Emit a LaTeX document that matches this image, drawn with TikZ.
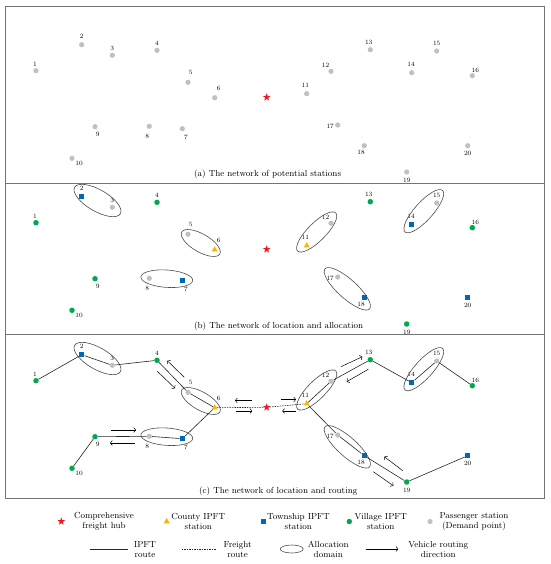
\documentclass[tikz,border=0pt]{standalone}
\usepackage{tikz}
\usetikzlibrary{arrows.meta,shapes.geometric,positioning,calc}

\definecolor{hubred}{RGB}{236,28,36}
\definecolor{ctyyellow}{RGB}{247,182,0}
\definecolor{townblue}{RGB}{0,104,180}
\definecolor{villgreen}{RGB}{0,168,80}
\definecolor{passgray}{RGB}{192,192,192}

\begin{document}
\begin{tikzpicture}[x=1pt, y=-1pt,
    pass/.style={circle, fill=passgray, inner sep=0pt, minimum size=5.2pt},
    village/.style={circle, fill=villgreen, inner sep=0pt, minimum size=5.5pt},
    township/.style={rectangle, fill=townblue, inner sep=0pt, minimum size=5.5pt},
    county/.style={regular polygon, regular polygon sides=3, fill=ctyyellow, inner sep=0pt, minimum size=7pt},
    hub/.style={star, star points=5, star point ratio=2.4, fill=hubred, inner sep=0pt, minimum size=8pt},
    kind/.style={#1},
    num/.style={font=\fontsize{6.5}{7}\selectfont, inner sep=0pt},
    dom/.style={ellipse, draw=black!70, line width=0.6pt, inner sep=0pt},
    route/.style={draw=black!85, line width=0.6pt},
    freight/.style={route, dash pattern=on 1.5pt off 1pt},
    dir/.style={-{To[length=2.5pt]}, line width=0.5pt},
    panel/.style={draw=black!55, line width=0.8pt},
    captxt/.style={font=\fontsize{8.8}{10}\selectfont, anchor=west, inner sep=0pt},
    leg/.style={font=\fontsize{8.8}{10}\selectfont, align=center, inner sep=0pt}
]
\useasboundingbox (0,0) rectangle (550,564);

% three panels
\draw[panel] (5,6.7) rectangle (544,183);
\draw[panel] (5,183) rectangle (544,334);
\draw[panel] (5,334) rectangle (544,498);

% stations: panel (a), (b) = +152, (c) = +310
\foreach \n/\x/\y/\t/\dx/\dy in {
    1/36/70.7/village/-1/-6, 2/81.7/44.7/township/0/-8, 3/112.3/55.3/pass/0/-6.5,
    4/157/50.3/village/0/-6.5, 5/188/82.3/pass/2.7/-10, 6/214.7/97.7/county/4/-9,
    7/182.3/128.7/township/3.7/8.5, 8/149.3/126.3/pass/-2/10, 9/95/126.7/village/2.7/8,
    10/72/158.3/village/7/5, 11/306.7/93.7/county/-1.4/-8, 12/331/71.3/pass/-5.5/-5.5,
    13/370.3/49.7/village/-1.6/-7, 14/411.7/72.7/township/-0.7/-8.5, 15/436.7/51/pass/0/-8,
    16/472.3/75.7/village/3/-5.5, 17/337.7/125/pass/-7.5/1.3, 18/364.3/145.7/township/-3.3/7,
    19/406.7/172/village/0/8, 20/467.7/145.7/township/0/7.5} {
  \node[pass] (a\n) at (\x,\y) {};
  \node[num] (a\n-l) at ({\x+\dx},{\y+\dy}) {\n};
  \node[kind/.expand once=\t] (b\n) at (\x,{\y+152}) {};
  \node[num] (b\n-l) at ({\x+\dx},{\y+\dy+152}) {\n};
  \node[kind/.expand once=\t] (c\n) at (\x,{\y+310}) {};
  \node[num] (c\n-l) at ({\x+\dx},{\y+\dy+310}) {\n};
}
\node[hub] (ha) at (266.7,97.3) {};
\node[hub] (hb) at (266.7,249.3) {};
\node[hub] (hc) at (266.7,407.3) {};

% allocation domains in (b) and (c)
\foreach \e/\cx/\cy/\r/\w/\h in {
    23/97.5/200.5/-30/52.8/21.6, 56/200.8/243/-30/44/18, 78/166.8/278.7/-4/52/17.4,
    1112/316.7/232/45/54/18, 1415/423.8/211.2/48/56/18, 1718/347.3/288.8/-42/60/19} {
  \node[dom, minimum width=\w pt, minimum height=\h pt, rotate=\r] (bd\e) at (\cx,\cy) {};
  \node[dom, minimum width=\w pt, minimum height=\h pt, rotate=\r] (cd\e) at (\cx,{\cy+158}) {};
}

% routes in (c)
\draw[route] (c1) -- (c2) -- (c3) -- (c4) -- (c5) -- (c6) -- (c7) -- (c8) -- (c9) -- (c10);
\draw[route] (c11) -- (c12) -- (c13) -- (c14) -- (c15) -- (c16);
\draw[route] (c11) -- (c17) -- (c18) -- (c19) -- (c20);
\draw[freight] (c6) -- (hc) -- (c11);

% routing directions
\draw[dir] (184.3,377.3) -- (167.3,360.7);
\draw[dir] (157.3,371.3) -- (175,388.3);
\draw[dir] (251.7,400.5) -- (235,400.5);
\draw[dir] (236,411) -- (252.3,411);
\draw[dir] (281,399.5) -- (296,399.5);
\draw[dir] (296,411) -- (282.3,411);
\draw[dir] (111,430) -- (136,430);
\draw[dir] (135,443) -- (110,443);
\draw[dir] (341,366.7) -- (362.3,356.7);
\draw[dir] (368.3,369.3) -- (346.7,381.7);
\draw[dir] (402.7,470.7) -- (384.3,456.7);
\draw[dir] (373.3,471.7) -- (393.3,485.7);

% captions
\node[captxt] (capa) at (194,174.3) {(a) The network of potential stations};
\node[captxt] (capb) at (194,326) {(b) The network of location and allocation};
\node[captxt] (capc) at (199,491.7) {(c) The network of location and routing};

% legend
\node[hub] (lhub) at (61.3,521.5) {};
\node[leg] (lhub-t) at (104,521.5) {Comprehensive\\freight hub};
\node[county] (lcty) at (166.7,521.5) {};
\node[leg] (lcty-t) at (198.3,521.5) {County IPFT\\station};
\node[township] (ltown) at (263.3,521.5) {};
\node[leg] (ltown-t) at (298.3,521.5) {Township IPFT\\station};
\node[village] (lvill) at (349.3,521.5) {};
\node[leg] (lvill-t) at (380.7,521.5) {Village IPFT\\station};
\node[pass] (lpass) at (430,521.5) {};
\node[leg] (lpass-t) at (474,521.5) {Passenger station\\(Demand point)};

\coordinate (lr1) at (90,549);
\coordinate (lr2) at (128.3,549);
\draw[route] (lr1) -- (lr2);
\node[leg] (lroute) at (145,549.5) {IPFT\\route};
\coordinate (lf1) at (181.7,549);
\coordinate (lf2) at (216,549);
\draw[freight] (lf1) -- (lf2);
\node[leg] (lfreight) at (237.7,549.5) {Freight\\route};
\node[dom, minimum width=23pt, minimum height=8pt] (ldom) at (291.7,549) {};
\node[leg] (ldom-t) at (328.3,549.5) {Allocation\\domain};
\coordinate (ld1) at (365.7,549);
\coordinate (ld2) at (398.3,549);
\draw[dir] (ld1) -- (ld2);
\node[leg] (ldir) at (438.3,549.5) {Vehicle routing\\direction};
\end{tikzpicture}
\end{document}
